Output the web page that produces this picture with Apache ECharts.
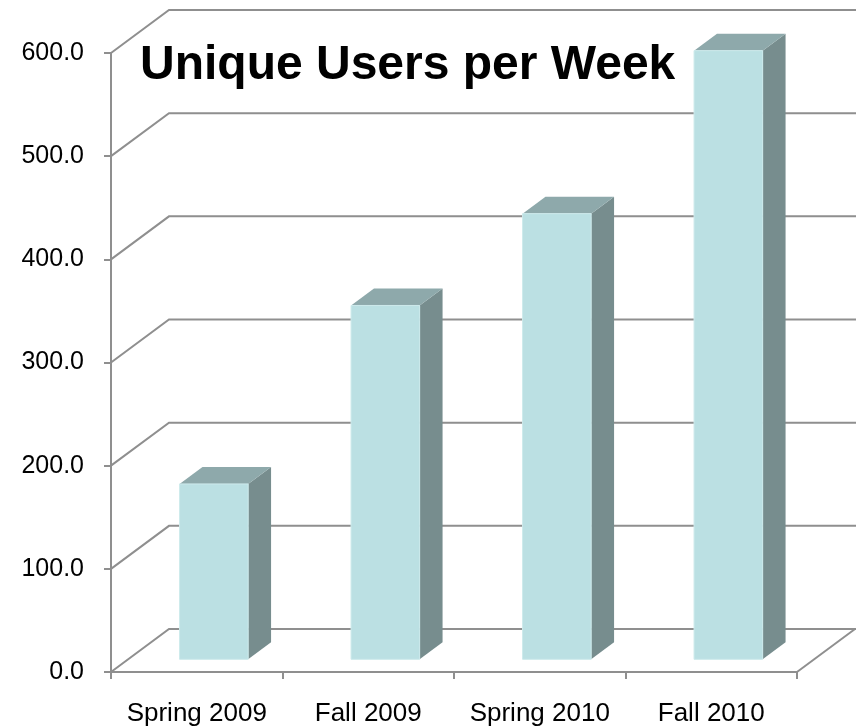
<!DOCTYPE html>
<html>
<head>
<meta charset="utf-8">
<script src="https://cdn.jsdelivr.net/npm/echarts@6/dist/echarts.min.js"></script>
<style>
html,body{margin:0;padding:0;background:#fff;}
#chart{width:856px;height:728px;}
</style>
</head>
<body>
<div id="chart"></div>
<script>
const categories = ['Spring 2009', 'Fall 2009', 'Spring 2010', 'Fall 2010'];
const usersPerWeek = [170, 343, 432, 590];
const yTicks = [0, 100, 200, 300, 400, 500, 600];
const titleText = 'Unique Users per Week';

const DX = 58, DY = -43;          // depth vector (back wall offset)
const D1 = 0.295, D2 = 0.69;      // bar front/back depth fraction
const BAR_FRAC = 0.4;
const GRID_COLOR = '#8f8f8f';
const FONT = 'Arial, "Liberation Sans", sans-serif';

const chart = echarts.init(document.getElementById('chart'), null, {renderer: 'canvas'});

const option = {
  animation: false,
  title: {
    text: titleText,
    left: 140, top: 42, padding: 0,
    textStyle: {fontFamily: FONT, fontSize: 48, fontWeight: 'bold', color: '#000'}
  },
  grid: {left: 111, right: 59, top: 53, bottom: 56, containLabel: false},
  xAxis: {
    type: 'category',
    data: categories,
    axisLine: {show: true, lineStyle: {color: GRID_COLOR, width: 2}},
    axisTick: {show: true, length: 7, interval: 0, lineStyle: {color: GRID_COLOR, width: 2}},
    axisLabel: {interval: 0, margin: 29, color: '#000', fontFamily: FONT, fontSize: 26},
    splitLine: {show: false}
  },
  yAxis: {
    type: 'value',
    min: 0, max: 600, interval: 100,
    axisLine: {show: true, lineStyle: {color: GRID_COLOR, width: 2}},
    axisTick: {show: true, length: 7, lineStyle: {color: GRID_COLOR, width: 2}},
    axisLabel: {margin: 27, color: '#000', fontFamily: FONT, fontSize: 25,
      formatter: v => v.toFixed(1)},
    splitLine: {show: false}
  },
  series: [
    {
      type: 'custom',
      z: 1,
      silent: true,
      data: yTicks.map(v => [0, v]),
      renderItem: function (params, api) {
        const v = api.value(1);
        const p = api.coord([0, v]);
        const bw = api.size([1, 0])[0];
        const left = p[0] - bw / 2;
        const children = [{
          type: 'polyline',
          shape: {points: [[left, p[1]], [left + DX, p[1] + DY], [900, p[1] + DY]]},
          style: {stroke: GRID_COLOR, lineWidth: 2, fill: null}
        }];
        if (v === 0) {
          const r = api.coord([categories.length - 1, 0])[0] + bw / 2;
          children.push({
            type: 'line',
            shape: {x1: r, y1: p[1], x2: r + DX, y2: p[1] + DY},
            style: {stroke: GRID_COLOR, lineWidth: 2}
          });
        }
        return {type: 'group', children: children};
      }
    },
    {
      type: 'custom',
      z: 2,
      data: usersPerWeek.map((v, i) => [i, v]),
      renderItem: function (params, api) {
        const i = api.value(0), v = api.value(1);
        const base = api.coord([i, 0]);
        const top = api.coord([i, v]);
        const bw = api.size([1, 0])[0];
        const w = bw * BAR_FRAC;
        const x0 = base[0] - w / 2 + D1 * DX, x1 = x0 + w;
        const yb = base[1] + D1 * DY, yt = top[1] + D1 * DY;
        const sx = (D2 - D1) * DX, sy = (D2 - D1) * DY;
        return {
          type: 'group',
          children: [
            {type: 'polygon', shape: {points: [[x1, yt], [x1 + sx, yt + sy], [x1 + sx, yb + sy], [x1, yb]]},
              style: {fill: '#778d8e'}},
            {type: 'polygon', shape: {points: [[x0, yt], [x1, yt], [x1 + sx, yt + sy], [x0 + sx, yt + sy]]},
              style: {fill: '#8ea9ab'}},
            {type: 'rect', shape: {x: x0, y: yt, width: w, height: yb - yt},
              style: {fill: '#bbe0e3', stroke: '#cdeaec', lineWidth: 1}}
          ]
        };
      }
    }
  ]
};
chart.setOption(option);
</script>
</body>
</html>
